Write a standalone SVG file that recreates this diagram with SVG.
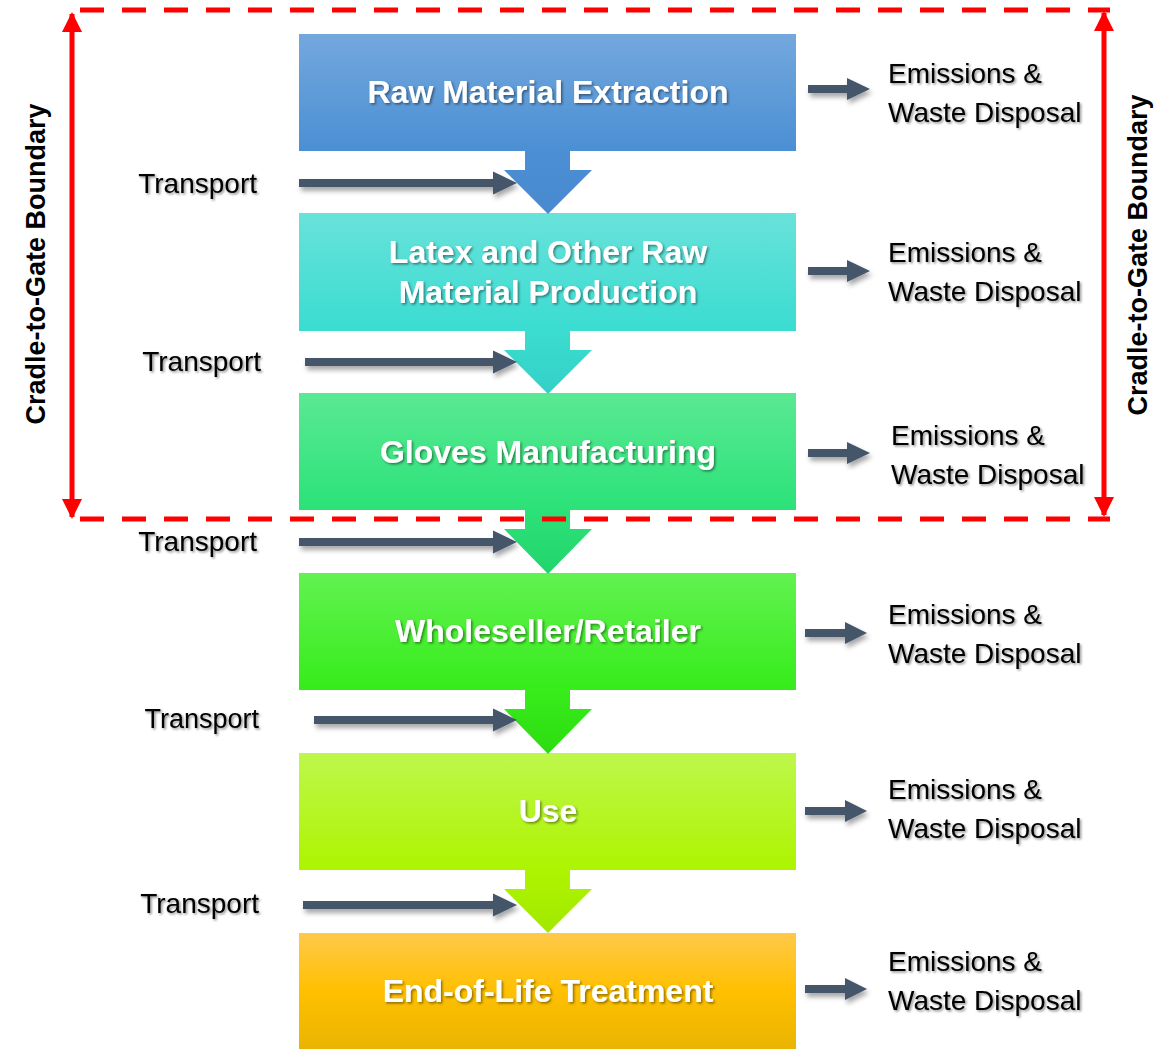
<svg xmlns="http://www.w3.org/2000/svg" width="1166" height="1049" viewBox="0 0 1166 1049">
<defs>
<linearGradient id="g1" x1="0" y1="0" x2="0" y2="1"><stop offset="0" stop-color="#73a8dd"/><stop offset="1" stop-color="#4b8fd4"/></linearGradient>
<linearGradient id="g2" x1="0" y1="0" x2="0" y2="1"><stop offset="0" stop-color="#68e2da"/><stop offset="1" stop-color="#3adcd1"/></linearGradient>
<linearGradient id="g3" x1="0" y1="0" x2="0" y2="1"><stop offset="0" stop-color="#5ae994"/><stop offset="1" stop-color="#2be278"/></linearGradient>
<linearGradient id="g4" x1="0" y1="0" x2="0" y2="1"><stop offset="0" stop-color="#62f251"/><stop offset="1" stop-color="#36ec1a"/></linearGradient>
<linearGradient id="g5" x1="0" y1="0" x2="0" y2="1"><stop offset="0" stop-color="#bef74c"/><stop offset="1" stop-color="#adf400"/></linearGradient>
<linearGradient id="g6" x1="0" y1="0" x2="0" y2="1"><stop offset="0" stop-color="#ffc94a"/><stop offset="0.5" stop-color="#ffc000"/><stop offset="1" stop-color="#e9b400"/></linearGradient>
<linearGradient id="a1" x1="0" y1="0" x2="0" y2="1"><stop offset="0" stop-color="#4c8fd4"/><stop offset="1" stop-color="#4889cf"/></linearGradient>
<linearGradient id="a2" x1="0" y1="0" x2="0" y2="1"><stop offset="0" stop-color="#3cdcd1"/><stop offset="1" stop-color="#33d0c6"/></linearGradient>
<linearGradient id="a3" x1="0" y1="0" x2="0" y2="1"><stop offset="0" stop-color="#2ce278"/><stop offset="1" stop-color="#22d46c"/></linearGradient>
<linearGradient id="a4" x1="0" y1="0" x2="0" y2="1"><stop offset="0" stop-color="#38ec1b"/><stop offset="1" stop-color="#2cdc10"/></linearGradient>
<linearGradient id="a5" x1="0" y1="0" x2="0" y2="1"><stop offset="0" stop-color="#aef400"/><stop offset="1" stop-color="#a2e800"/></linearGradient>
<filter id="sh" x="-10%" y="-50%" width="130%" height="250%"><feDropShadow dx="2" dy="4" stdDeviation="2.5" flood-color="#000" flood-opacity="0.35"/></filter>
<filter id="ts" x="-5%" y="-20%" width="115%" height="150%"><feDropShadow dx="1.5" dy="1.5" stdDeviation="1" flood-color="#000" flood-opacity="0.45"/></filter>
<marker id="rh" viewBox="0 0 10 10" refX="9" refY="5" markerWidth="4.4" markerHeight="4" orient="auto-start-reverse" markerUnits="strokeWidth"><path d="M0,0 L10,5 L0,10 z" fill="#ff0000"/></marker>
</defs>
<style>
.box{stroke:none}
.title{font-family:"Liberation Sans",Arial,sans-serif;font-weight:bold;font-size:32px;fill:#ffffff;text-anchor:middle}
.lbl{font-family:"Liberation Sans",Arial,sans-serif;font-size:28px;fill:#000000}
.tr{text-anchor:end}
.side{font-family:"Liberation Sans",Arial,sans-serif;font-weight:bold;font-size:27px;fill:#000000;text-anchor:middle}
.dark{fill:#44546a}
.dash{stroke:#ff0000;stroke-width:5;stroke-dasharray:24 18;fill:none}
.red{stroke:#ff0000;stroke-width:5;fill:none}
</style>

<g id="node-raw-material-extraction">
<rect class="box" x="299" y="34" width="497" height="117" fill="url(#g1)"/>
<text class="title" x="548" y="103" filter="url(#ts)">Raw Material Extraction</text>
</g>
<g id="node-latex-production">
<rect class="box" x="299" y="213" width="497" height="118" fill="url(#g2)"/>
<text class="title" x="548" y="263" filter="url(#ts)">Latex and Other Raw</text>
<text class="title" x="548" y="303" filter="url(#ts)">Material Production</text>
</g>
<g id="node-gloves-manufacturing">
<rect class="box" x="299" y="393" width="497" height="117" fill="url(#g3)"/>
<text class="title" x="548" y="463" filter="url(#ts)">Gloves Manufacturing</text>
</g>
<g id="node-wholeseller">
<rect class="box" x="299" y="573" width="497" height="117" fill="url(#g4)"/>
<text class="title" x="548" y="642" filter="url(#ts)">Wholeseller/Retailer</text>
</g>
<g id="node-use">
<rect class="box" x="299" y="753" width="497" height="117" fill="url(#g5)"/>
<text class="title" x="548" y="822" filter="url(#ts)">Use</text>
</g>
<g id="node-end-of-life">
<rect class="box" x="299" y="933" width="497" height="116" fill="url(#g6)"/>
<text class="title" x="548" y="1002" filter="url(#ts)">End-of-Life Treatment</text>
</g>

<g id="connectors">
<polygon points="525,151 570,151 570,170 592,170 548,214 504,170 525,170" fill="url(#a1)"/>
<polygon points="525,331 570,331 570,350 592,350 548,394 504,350 525,350" fill="url(#a2)"/>
<polygon points="525,510 570,510 570,529 592,529 548,574 504,529 525,529" fill="url(#a3)"/>
<polygon points="525,690 570,690 570,709 592,709 548,754 504,709 525,709" fill="url(#a4)"/>
<polygon points="525,870 570,870 570,889 592,889 548,933 504,889 525,889" fill="url(#a5)"/>

<g class="dark" filter="url(#sh)">
<polygon points="299,179 493,179 493,171.5 517,183 493,194.5 493,187 299,187"/>
<polygon points="305,358 493,358 493,350.5 517,362 493,373.5 493,366 305,366"/>
<polygon points="299,538 493,538 493,530.5 517,542 493,553.5 493,546 299,546"/>
<polygon points="314,716 493,716 493,708.5 517,720 493,731.5 493,724 314,724"/>
<polygon points="303,901 493,901 493,893.5 517,905 493,916.5 493,909 303,909"/>

<polygon points="808,85 847,85 847,78 870,89 847,100 847,93 808,93"/>
<polygon points="808,267 847,267 847,260 870,271 847,282 847,275 808,275"/>
<polygon points="808,449 847,449 847,442 870,453 847,464 847,457 808,457"/>
<polygon points="805,629 845,629 845,622 867,633 845,644 845,637 805,637"/>
<polygon points="805,807 845,807 845,800 867,811 845,822 845,815 805,815"/>
<polygon points="805,985 845,985 845,978 867,989 845,1000 845,993 805,993"/>
</g>
</g>

<g id="labels" filter="url(#ts)">
<text class="lbl tr" x="257" y="193">Transport</text>
<text class="lbl tr" x="261" y="371">Transport</text>
<text class="lbl tr" x="257" y="551">Transport</text>
<text class="lbl tr" x="259" y="728" style="font-size:27px">Transport</text>
<text class="lbl tr" x="259" y="913">Transport</text>

<text class="lbl" x="888" y="83">Emissions &amp;</text>
<text class="lbl" x="888" y="122">Waste Disposal</text>
<text class="lbl" x="888" y="262">Emissions &amp;</text>
<text class="lbl" x="888" y="301">Waste Disposal</text>
<text class="lbl" x="891" y="445">Emissions &amp;</text>
<text class="lbl" x="891" y="484">Waste Disposal</text>
<text class="lbl" x="888" y="624">Emissions &amp;</text>
<text class="lbl" x="888" y="663">Waste Disposal</text>
<text class="lbl" x="888" y="799">Emissions &amp;</text>
<text class="lbl" x="888" y="838">Waste Disposal</text>
<text class="lbl" x="888" y="971">Emissions &amp;</text>
<text class="lbl" x="888" y="1010">Waste Disposal</text>
</g>

<g id="boundary">
<line class="dash" x1="80" y1="10" x2="1110" y2="10"/>
<line class="dash" x1="80" y1="519" x2="1110" y2="519"/>
<line class="red" x1="72" y1="14" x2="72" y2="517" marker-start="url(#rh)" marker-end="url(#rh)"/>
<line class="red" x1="1104" y1="13" x2="1104" y2="515" marker-start="url(#rh)" marker-end="url(#rh)"/>
<text class="side" transform="translate(45,264) rotate(-90)">Cradle-to-Gate Boundary</text>
<text class="side" transform="translate(1147,255) rotate(-90)">Cradle-to-Gate Boundary</text>
</g>
</svg>
